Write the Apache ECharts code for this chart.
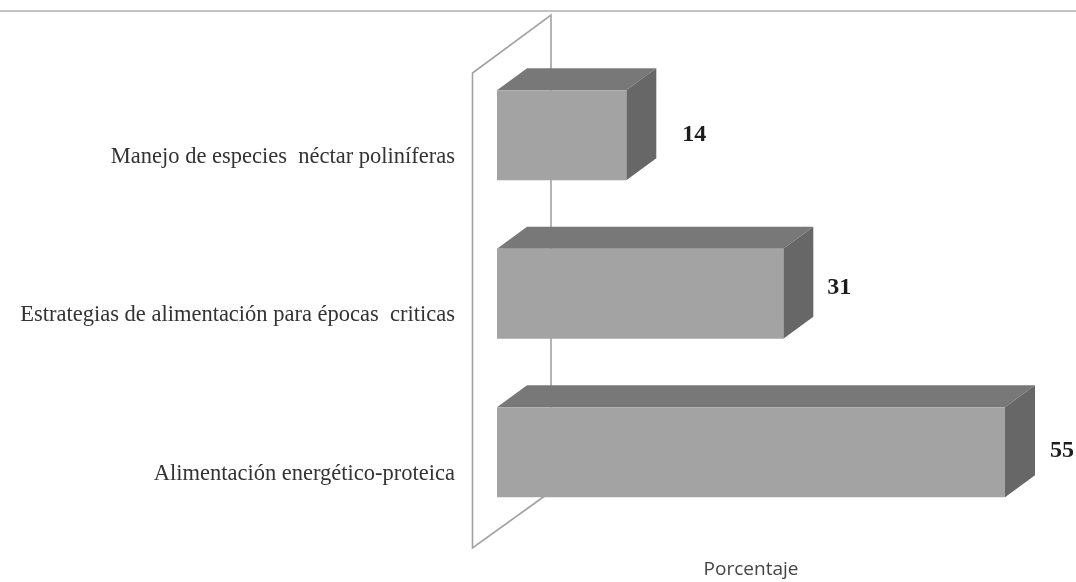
<!DOCTYPE html>
<html><head><meta charset="utf-8">
<style>html,body{margin:0;padding:0;background:#fff}#c{width:1076px;height:582px;filter:blur(0.6px)}</style>
<script src="https://cdn.jsdelivr.net/npm/echarts@6/dist/echarts.min.js"></script>
</head><body><div id="c"></div>
<script>
const categories = ['Manejo de especies  néctar poliníferas', 'Estrategias de alimentación para épocas  criticas', 'Alimentación energético-proteica'];
const values = [14, 31, 55];
const axisName = 'Porcentaje';

const DEPTH_X = 30, DEPTH_Y = 22, BAR_H = 90;
const chart = echarts.init(document.getElementById('c'), null, {renderer: 'canvas'});

function renderWall(params, api) {
  const p = api.coord([0, 0]);
  const band = api.size([0, 1])[1];
  const x0 = p[0];
  const top = p[1] - band / 2;
  const bottom = p[1] + band * 2.5;
  const style = {fill: 'none', stroke: '#a2a2a2', lineWidth: 1.6};
  return {type: 'polyline', silent: true, shape: {points: [
    [x0 + 54, bottom - 40], [x0 - 24.5, bottom + 16.5], [x0 - 24.5, top + 17], [x0 + 54, top - 41], [x0 + 54, bottom - 40]
  ]}, style};
}
function renderBar(params, api) {
  const v = api.value(0), c = api.value(1);
  const a = api.coord([0, c]), b = api.coord([v, c]);
  const l = a[0], r = b[0], t = a[1] - BAR_H / 2, d = a[1] + BAR_H / 2;
  const dx = DEPTH_X, dy = DEPTH_Y;
  return {type: 'group', children: [
    {type: 'polygon', shape: {points: [[l, t], [l + dx, t - dy], [r + dx, t - dy], [r, t]]}, style: {fill: '#787878'}},
    {type: 'polygon', shape: {points: [[r, t], [r + dx, t - dy], [r + dx, d - dy], [r, d]]}, style: {fill: '#676767'}},
    {type: 'rect', shape: {x: l, y: t, width: r - l, height: BAR_H}, style: {fill: '#a3a3a3'}}
  ]};
}
const labelDx = [56, 44, 45], labelDy = [0, -6, -1];
function renderLabel(params, api) {
  const v = api.value(0), c = api.value(1);
  const b = api.coord([v, c]);
  return {type: 'text', style: {
    x: b[0] + labelDx[params.dataIndex], y: b[1] + labelDy[params.dataIndex],
    text: String(v), fill: '#1c1c1c', align: 'left', verticalAlign: 'middle',
    font: 'bold 24px "Liberation Serif"'
  }};
}
const rows = values.map((v, i) => [v, i]);
chart.setOption({
  animation: false,
  backgroundColor: '#ffffff',
  grid: {left: 497, width: 508, top: 56, height: 475.5, outerBoundsMode: 'none'},
  xAxis: {type: 'value', min: 0, max: 55, axisLine: {show: false}, axisTick: {show: false},
    splitLine: {show: false}, axisLabel: {show: false},
    name: axisName, nameLocation: 'middle', nameGap: 29,
    nameTextStyle: {fontFamily: '"Open Sans"', fontSize: 19, color: '#444444'}},
  yAxis: {type: 'category', inverse: true, data: categories, axisLine: {show: false}, axisTick: {show: false},
    axisLabel: {margin: 42, fontFamily: '"Liberation Serif"', fontSize: 22.5, color: '#333333', verticalAlign: 'top', lineHeight: 43}},
  graphic: [{type: 'line', silent: true, shape: {x1: 0, y1: 11, x2: 1076, y2: 11}, style: {stroke: '#c4c4c4', lineWidth: 2}}],
  series: [
    {type: 'custom', renderItem: renderWall, data: [[0, 0]], encode: {x: 0, y: 1}, z: 1, clip: false},
    {type: 'custom', renderItem: renderBar, data: rows, encode: {x: 0, y: 1}, z: 2, clip: false},
    {type: 'custom', renderItem: renderLabel, data: rows, encode: {x: 0, y: 1}, z: 3, clip: false}
  ]
});
</script></body></html>
